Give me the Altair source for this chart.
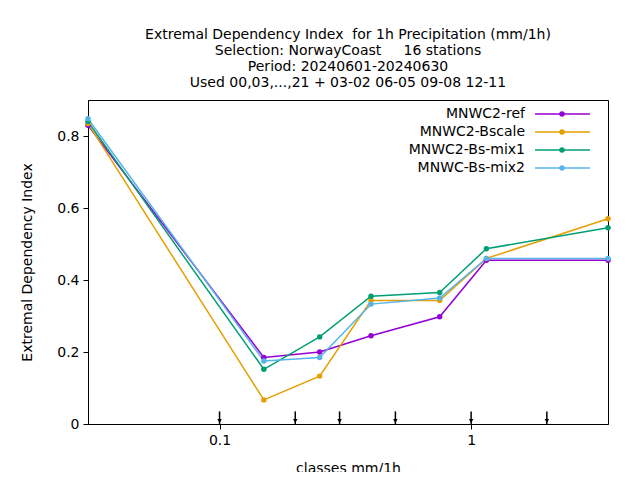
import pandas as pd
import altair as alt

classes = [0.03, 0.15, 0.25, 0.4, 0.75, 1.15, 3.5]
series = ["MNWC2-ref", "MNWC2-Bscale", "MNWC2-Bs-mix1", "MNWC-Bs-mix2"]
colors = ["#9400d3", "#e69f00", "#009e73", "#56b4e9"]
edi_ref = [0.83, 0.185, 0.2, 0.245, 0.298, 0.455, 0.455]
edi_bscale = [0.835, 0.067, 0.133, 0.343, 0.343, 0.46, 0.57]
edi_mix1 = [0.84, 0.152, 0.242, 0.355, 0.365, 0.487, 0.545]
edi_mix2 = [0.848, 0.175, 0.185, 0.333, 0.35, 0.46, 0.46]
thresholds = [0.1, 0.2, 0.3, 0.5, 1, 2]

rows = []
for name, vals in zip(series, [edi_ref, edi_bscale, edi_mix1, edi_mix2]):
    for c, v in zip(classes, vals):
        rows.append({"series": name, "cls": c, "edi": v})
df = pd.DataFrame(rows)

font = "DejaVu Sans"
fs = 14
xscale = alt.Scale(type="log", domain=[0.03, 3.5], nice=False)
yscale = alt.Scale(domain=[0, 0.9], nice=False)

lines = alt.Chart(df).mark_line(point=alt.OverlayMarkDef(size=30, filled=True), strokeWidth=1.5).encode(
    x=alt.X("cls:Q", scale=xscale, title="classes mm/1h",
            axis=alt.Axis(values=[0.1, 1], format="~g", grid=False, tickSize=5, labelOverlap=False)),
    y=alt.Y("edi:Q", scale=yscale, title="Extremal Dependency Index",
            axis=alt.Axis(values=[i / 10 for i in range(10)], format="~g", grid=False, tickSize=5,
                          labelOverlap=False)),
    color=alt.Color("series:N", scale=alt.Scale(domain=series, range=colors), legend=None),
)

tdf = pd.DataFrame({"t": thresholds, "y0": 0.0, "y1": 0.035})
arrows = alt.Chart(tdf).mark_rule(color="black", strokeWidth=1.5).encode(
    x=alt.X("t:Q", scale=xscale), y=alt.Y("y0:Q", scale=yscale), y2="y1:Q")
heads = alt.Chart(tdf).mark_point(shape="triangle-down", filled=True, color="black", size=20, opacity=1).encode(
    x=alt.X("t:Q", scale=xscale), y=alt.Y("y0:Q", scale=yscale), yOffset=alt.value(-3))

legend_layers = []
for i, (name, col) in enumerate(zip(series, colors)):
    ly = 14 + i * 18
    ldf = pd.DataFrame({"name": [name]})
    legend_layers.append(alt.Chart(ldf).mark_text(align="right", font=font, fontSize=fs).encode(
        text="name:N", x=alt.value(437), y=alt.value(ly)))
    legend_layers.append(alt.Chart(ldf).mark_rule(color=col, strokeWidth=1.5).encode(
        x=alt.value(447), x2=alt.value(502), y=alt.value(ly)))
    legend_layers.append(alt.Chart(ldf).mark_point(color=col, filled=True, size=30, opacity=1).encode(
        x=alt.value(474), y=alt.value(ly)))

nb = "\u00a0"
chart = alt.layer(lines, arrows, heads, *legend_layers).properties(
    width=520, height=324,
    autosize=alt.AutoSizeParams(type="none"),
    padding={"left": 80, "top": 92, "right": 24, "bottom": 48},
    title=alt.TitleParams(
        ["Extremal Dependency Index" + nb * 2 + "for 1h Precipitation (mm/1h)",
         "Selection: NorwayCoast" + nb * 5 + "16 stations",
         "Period: 20240601-20240630",
         "Used 00,03,...,21 + 03-02 06-05 09-08 12-11"],
        font=font, fontSize=fs, fontWeight="normal", anchor="middle",
        lineHeight=16, offset=10),
).configure_view(stroke="black", strokeWidth=1).configure_axis(
    labelFont=font, titleFont=font, labelFontSize=fs, titleFontSize=fs,
    titleFontWeight="normal", labelColor="black", titleColor="black",
    domainColor="black", tickColor="black", labelPadding=4,
).configure_axisY(titlePadding=22).configure_axisX(titlePadding=14)

chart.save("out.html", embed_options={"renderer": "svg", "actions": False})
